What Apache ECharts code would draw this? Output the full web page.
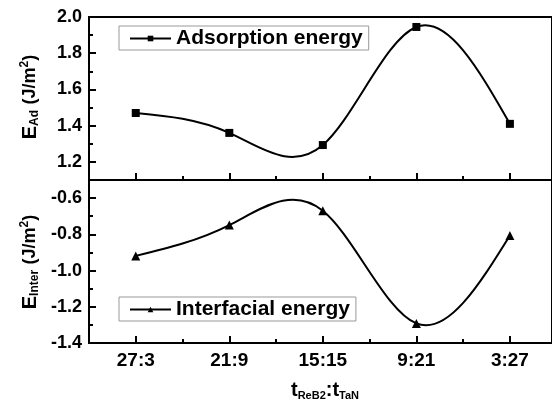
<!DOCTYPE html>
<html>
<head>
<meta charset="utf-8">
<script src="https://cdn.jsdelivr.net/npm/echarts@6/dist/echarts.min.js"></script>
<style>
html,body{margin:0;padding:0;background:#fff;}
#c{width:552px;height:407px;}
</style>
</head>
<body>
<div id="c"></div>
<script>
const categories = ['27:3', '21:9', '15:15', '9:21', '3:27'];
const adsorption = [1.47, 1.36, 1.293, 1.945, 1.41];
const interfacial = [-0.919, -0.749, -0.67, -1.292, -0.806];
const yTicksTop = [1.2, 1.4, 1.6, 1.8, 2.0];
const yMinorTop = [1.3, 1.5, 1.7, 1.9];
const yTicksBottom = [-1.4, -1.2, -1.0, -0.8, -0.6];
const yMinorBottom = [-1.3, -1.1, -0.9, -0.7];
const xMajor = [0, 1, 2, 3, 4];
const xMinor = [0.5, 1.5, 2.5, 3.5];

const FONT = '"Liberation Sans", Arial, sans-serif';
const chart = echarts.init(document.getElementById('c'), null, {renderer: 'canvas'});

// Natural cubic spline slopes (uniform spacing = 1) for drawing the curve
function splineSlopes(ys) {
  const n = ys.length;
  const M = new Array(n).fill(0);
  if (n > 2) {
    const a = [], b = [], c = [], d = [];
    for (let i = 1; i < n - 1; i++) {
      a.push(1); b.push(4); c.push(1);
      d.push(6 * (ys[i + 1] - 2 * ys[i] + ys[i - 1]));
    }
    const m = d.length;
    for (let i = 1; i < m; i++) {
      const w = a[i] / b[i - 1];
      b[i] -= w * c[i - 1];
      d[i] -= w * d[i - 1];
    }
    const sol = new Array(m);
    sol[m - 1] = d[m - 1] / b[m - 1];
    for (let i = m - 2; i >= 0; i--) sol[i] = (d[i] - c[i] * sol[i + 1]) / b[i];
    for (let i = 0; i < m; i++) M[i + 1] = sol[i];
  }
  const slopes = [];
  for (let i = 0; i < n; i++) {
    if (i < n - 1) slopes.push((ys[i + 1] - ys[i]) - (2 * M[i] + M[i + 1]) / 6);
    else slopes.push((ys[i] - ys[i - 1]) + (M[i - 1] + 2 * M[i]) / 6);
  }
  return slopes;
}

function curveSeries(ys, xi, yi) {
  const s = splineSlopes(ys);
  return {
    type: 'custom', xAxisIndex: xi, yAxisIndex: yi, silent: true, z: 2,
    data: ys.map((v, i) => [xMajor[i], v]),
    encode: {x: 0, y: 1},
    renderItem: function (params, api) {
      const i = params.dataIndex;
      if (i >= ys.length - 1) return {type: 'group', children: []};
      const x0 = xMajor[i], x1 = xMajor[i + 1], h = x1 - x0;
      const p0 = api.coord([x0, ys[i]]);
      const p1 = api.coord([x1, ys[i + 1]]);
      const c0 = api.coord([x0 + h / 3, ys[i] + s[i] * h / 3]);
      const c1 = api.coord([x1 - h / 3, ys[i + 1] - s[i + 1] * h / 3]);
      return {
        type: 'bezierCurve',
        shape: {x1: p0[0], y1: p0[1], x2: p1[0], y2: p1[1], cpx1: c0[0], cpy1: c0[1], cpx2: c1[0], cpy2: c1[1]},
        style: {stroke: '#000', lineWidth: 2, fill: null}
      };
    }
  };
}

const XMIN = -0.5, XMAX = 4.45;
function xAxisMain(grid, showLabels) {
  return {
    type: 'value', gridIndex: grid, min: XMIN, max: XMAX, position: 'bottom',
    splitLine: {show: false},
    axisLine: {show: true, onZero: false, lineStyle: {color: '#000', width: 2}},
    axisTick: {show: true, inside: true, length: 7, customValues: xMajor, lineStyle: {color: '#000', width: 2}},
    axisLabel: {show: showLabels, customValues: xMajor, margin: 8,
      formatter: v => categories[Math.round(v)] || '',
      color: '#000', fontFamily: FONT, fontWeight: 'bold', fontSize: 19}
  };
}
function xAxisMinor(grid) {
  return {
    type: 'value', gridIndex: grid, min: XMIN, max: XMAX, position: 'bottom',
    splitLine: {show: false}, axisLine: {show: false, onZero: false},
    axisTick: {show: true, inside: true, length: 4, customValues: xMinor, lineStyle: {color: '#000', width: 2}},
    axisLabel: {show: false}
  };
}
function yAxisMain(grid, min, max, ticks) {
  return {
    type: 'value', gridIndex: grid, min: min, max: max, position: 'left',
    splitLine: {show: false},
    axisLine: {show: true, onZero: false, lineStyle: {color: '#000', width: 2}},
    axisTick: {show: true, inside: true, length: 7, customValues: ticks, lineStyle: {color: '#000', width: 2}},
    axisLabel: {show: true, customValues: ticks, margin: 7, formatter: v => v.toFixed(1),
      color: '#000', fontFamily: FONT, fontWeight: 'bold', fontSize: 18}
  };
}
function yAxisMinor(grid, min, max, ticks) {
  return {
    type: 'value', gridIndex: grid, min: min, max: max, position: 'left',
    splitLine: {show: false}, axisLine: {show: false, onZero: false},
    axisTick: {show: true, inside: true, length: 4, customValues: ticks, lineStyle: {color: '#000', width: 2}},
    axisLabel: {show: false}
  };
}

const legendText = {color: '#000', fontFamily: FONT, fontWeight: 'bold', fontSize: 21};
const legendLine = {color: '#000', width: 2, opacity: 1};

chart.setOption({
  animation: false,
  backgroundColor: '#fff',
  grid: [
    {left: 89, right: -3, top: 17, height: 163, show: true, borderColor: '#000', borderWidth: 2, backgroundColor: 'transparent'},
    {left: 89, right: -3, top: 180, height: 163, show: true, borderColor: '#000', borderWidth: 2, backgroundColor: 'transparent'}
  ],
  xAxis: [xAxisMain(0, false), xAxisMinor(0), xAxisMain(1, true), xAxisMinor(1)],
  yAxis: [
    yAxisMain(0, 1.1, 2.0, yTicksTop), yAxisMinor(0, 1.1, 2.0, yMinorTop),
    yAxisMain(1, -1.4, -0.5, yTicksBottom), yAxisMinor(1, -1.4, -0.5, yMinorBottom)
  ],
  legend: [
    {data: ['Adsorption energy'], left: 119, top: 26, orient: 'horizontal',
     borderColor: '#999', borderWidth: 1, padding: [2, 6, 1, 10],
     itemWidth: 41, itemHeight: 7, itemGap: 5, textStyle: legendText, lineStyle: legendLine},
    {data: ['Interfacial energy'], left: 119, top: 297, orient: 'horizontal',
     borderColor: '#999', borderWidth: 1, padding: [2, 6, 1, 10],
     itemWidth: 41, itemHeight: 7, itemGap: 5, textStyle: legendText, lineStyle: legendLine}
  ],
  series: [
    curveSeries(adsorption, 0, 0),
    curveSeries(interfacial, 2, 2),
    {name: 'Adsorption energy', type: 'line', xAxisIndex: 0, yAxisIndex: 0, z: 3,
     data: adsorption.map((v, i) => [xMajor[i], v]),
     symbol: 'rect', symbolSize: 8, showAllSymbol: true,
     itemStyle: {color: '#000'}, lineStyle: {color: '#000', width: 2, opacity: 0}},
    {name: 'Interfacial energy', type: 'line', xAxisIndex: 2, yAxisIndex: 2, z: 3,
     data: interfacial.map((v, i) => [xMajor[i], v]),
     symbol: 'triangle', symbolSize: 9, showAllSymbol: true,
     itemStyle: {color: '#000'}, lineStyle: {color: '#000', width: 2, opacity: 0}}
  ],
  graphic: [
    {type: 'text', x: 30, y: 97, rotation: Math.PI / 2,
     style: {text: '{b|E}{s|Ad}{b| }{m|(J/m}{p|2}{m|)}', align: 'center', verticalAlign: 'middle',
       rich: {
         b: {fontFamily: FONT, fontWeight: 'bold', fontSize: 20, lineHeight: 22, fill: '#000'},
         m: {fontFamily: FONT, fontWeight: 'bold', fontSize: 18, lineHeight: 22, fill: '#000'},
         s: {fontFamily: FONT, fontWeight: 'bold', fontSize: 12, lineHeight: 10, verticalAlign: 'bottom', fill: '#000'},
         p: {fontFamily: FONT, fontWeight: 'bold', fontSize: 12, lineHeight: 12, verticalAlign: 'top', fill: '#000'}
       }}},
    {type: 'text', x: 30, y: 262, rotation: Math.PI / 2,
     style: {text: '{b|E}{s|Inter}{b| }{m|(J/m}{p|2}{m|)}', align: 'center', verticalAlign: 'middle',
       rich: {
         b: {fontFamily: FONT, fontWeight: 'bold', fontSize: 20, lineHeight: 22, fill: '#000'},
         m: {fontFamily: FONT, fontWeight: 'bold', fontSize: 18, lineHeight: 22, fill: '#000'},
         s: {fontFamily: FONT, fontWeight: 'bold', fontSize: 12, lineHeight: 10, verticalAlign: 'bottom', fill: '#000'},
         p: {fontFamily: FONT, fontWeight: 'bold', fontSize: 12, lineHeight: 12, verticalAlign: 'top', fill: '#000'}
       }}},
    {type: 'text', x: 325, y: 390,
     style: {text: '{b|t}{s|ReB2}{b|:t}{s|TaN}', align: 'center', verticalAlign: 'middle',
       rich: {
         b: {fontFamily: FONT, fontWeight: 'bold', fontSize: 20, lineHeight: 22, fill: '#000'},
         s: {fontFamily: FONT, fontWeight: 'bold', fontSize: 11, lineHeight: 8, verticalAlign: 'bottom', fill: '#000'}
       }}}
  ]
});
</script>
</body>
</html>
